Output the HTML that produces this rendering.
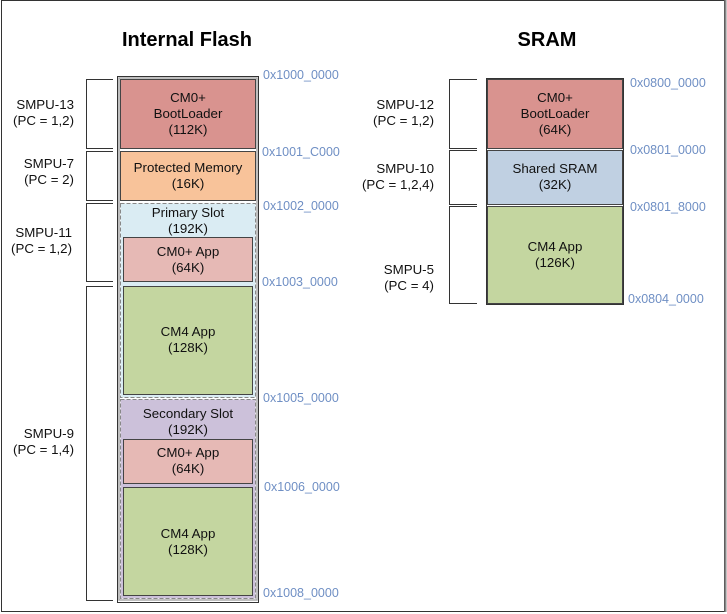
<!DOCTYPE html>
<html><head><meta charset="utf-8"><style>
html,body{margin:0;padding:0;background:#fff;width:727px;height:614px;overflow:hidden}
svg{display:block}
text{font-family:"Liberation Sans",Arial,sans-serif;font-size:13.3px;fill:#111}
.a{fill:#6f8fc4;font-size:12.5px}
.t{font-size:20px;font-weight:bold;fill:#000}
.c{text-anchor:middle}
.r{text-anchor:end}
</style></head><body>
<svg width="727" height="614" viewBox="0 0 727 614">
<rect x="1.5" y="0.5" width="723" height="611" fill="#fff" stroke="#333" stroke-width="1"/>
<line x1="725.5" y1="0" x2="725.5" y2="612" stroke="#888" stroke-width="2"/>
<text class="t c" x="187" y="46">Internal Flash</text>
<text class="t c" x="547" y="46">SRAM</text>

<!-- Flash container -->
<rect x="117.5" y="76.5" width="141" height="526" fill="#fff" stroke="#333"/>
<rect x="119" y="78" width="138" height="522" fill="none" stroke="#aaa" stroke-width="1.5"/>
<rect x="120.5" y="79.5" width="135" height="69" fill="#d9938f" stroke="#444"/>
<rect x="120.5" y="151.5" width="135" height="49" fill="#f8c39a" stroke="#444"/>
<rect x="120.5" y="203.5" width="135" height="194" fill="#daecf3" stroke="#888" stroke-dasharray="4,2"/>
<rect x="123.5" y="237.5" width="129" height="44" fill="#e6b9b5" stroke="#444"/>
<rect x="123.5" y="286.5" width="129" height="108" fill="#c4d6a0" stroke="#444"/>
<rect x="120.5" y="399.5" width="135" height="199" fill="#ccc1da" stroke="#888" stroke-dasharray="4,2"/>
<rect x="123.5" y="439.5" width="129" height="44" fill="#e6b9b5" stroke="#444"/>
<rect x="123.5" y="487.5" width="129" height="108" fill="#c4d6a0" stroke="#444"/>

<text class="c" x="188" y="102">CM0+</text>
<text class="c" x="188" y="118">BootLoader</text>
<text class="c" x="188" y="134">(112K)</text>
<text class="c" x="188" y="172">Protected Memory</text>
<text class="c" x="188" y="188">(16K)</text>
<text class="c" x="188" y="217">Primary Slot</text>
<text class="c" x="188" y="233">(192K)</text>
<text class="c" x="188" y="256">CM0+ App</text>
<text class="c" x="188" y="272">(64K)</text>
<text class="c" x="188" y="336">CM4 App</text>
<text class="c" x="188" y="352">(128K)</text>
<text class="c" x="188" y="418">Secondary Slot</text>
<text class="c" x="188" y="434">(192K)</text>
<text class="c" x="188" y="457">CM0+ App</text>
<text class="c" x="188" y="473">(64K)</text>
<text class="c" x="188" y="538">CM4 App</text>
<text class="c" x="188" y="554">(128K)</text>

<g fill="none" stroke="#333">
<polyline points="113,79.5 86.5,79.5 86.5,148.5 113,148.5"/>
<polyline points="113,151.5 86.5,151.5 86.5,200.5 113,200.5"/>
<polyline points="113,203.5 86.5,203.5 86.5,281.5 113,281.5"/>
<polyline points="113,286.5 86.5,286.5 86.5,600.5 113,600.5"/>
</g>
<text class="r" x="74" y="109">SMPU-13</text>
<text class="r" x="74" y="125">(PC = 1,2)</text>
<text class="r" x="74" y="168">SMPU-7</text>
<text class="r" x="74" y="184">(PC = 2)</text>
<text class="r" x="72" y="237">SMPU-11</text>
<text class="r" x="72" y="253">(PC = 1,2)</text>
<text class="r" x="74" y="438">SMPU-9</text>
<text class="r" x="74" y="454">(PC = 1,4)</text>

<text class="a" x="263" y="79">0x1000_0000</text>
<text class="a" x="262" y="156">0x1001_C000</text>
<text class="a" x="263" y="210">0x1002_0000</text>
<text class="a" x="262" y="286">0x1003_0000</text>
<text class="a" x="263" y="402">0x1005_0000</text>
<text class="a" x="264" y="491">0x1006_0000</text>
<text class="a" x="263" y="597">0x1008_0000</text>

<!-- SRAM -->
<rect x="486.5" y="78.5" width="137" height="226" fill="#fff" stroke="#333"/>
<rect x="487.5" y="79.5" width="135" height="69" fill="#d9938f" stroke="#444"/>
<rect x="487.5" y="150.5" width="135" height="54" fill="#c0d0e2" stroke="#444"/>
<rect x="487.5" y="206.5" width="135" height="97" fill="#c4d6a0" stroke="#444"/>
<text class="c" x="555" y="102">CM0+</text>
<text class="c" x="555" y="118">BootLoader</text>
<text class="c" x="555" y="134">(64K)</text>
<text class="c" x="555" y="173">Shared SRAM</text>
<text class="c" x="555" y="189">(32K)</text>
<text class="c" x="555" y="251">CM4 App</text>
<text class="c" x="555" y="267">(126K)</text>
<g fill="none" stroke="#333">
<polyline points="477,79.5 449.5,79.5 449.5,148.5 477,148.5"/>
<polyline points="477,150.5 449.5,150.5 449.5,204.5 477,204.5"/>
<polyline points="477,206.5 449.5,206.5 449.5,303.5 477,303.5"/>
</g>
<text class="r" x="434" y="109">SMPU-12</text>
<text class="r" x="434" y="125">(PC = 1,2)</text>
<text class="r" x="434" y="173">SMPU-10</text>
<text class="r" x="434" y="189">(PC = 1,2,4)</text>
<text class="r" x="434" y="274">SMPU-5</text>
<text class="r" x="434" y="290">(PC = 4)</text>
<text class="a" x="630" y="87">0x0800_0000</text>
<text class="a" x="630" y="154">0x0801_0000</text>
<text class="a" x="630" y="211">0x0801_8000</text>
<text class="a" x="628" y="303">0x0804_0000</text>
</svg>
</body></html>
